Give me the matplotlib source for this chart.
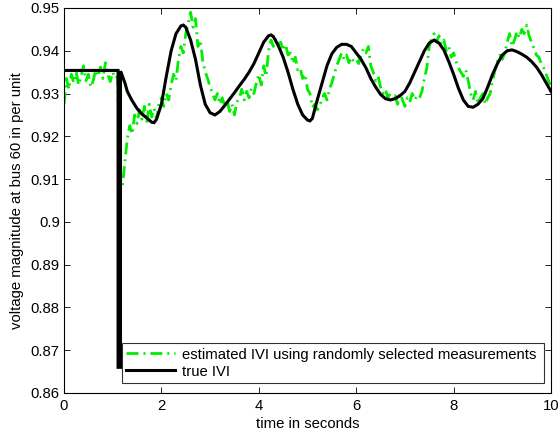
import numpy as np
import matplotlib
matplotlib.use("Agg")
import matplotlib.pyplot as plt

plt.rcParams['font.family'] = ['Liberation Sans', 'DejaVu Sans']

# Estimated |V| (green), sampled every 0.05 s from 0 to 10 s
est_t = np.linspace(0, 10, 201)
est_v = [
    0.9275, 0.9335, 0.9310, 0.9345, 0.9325, 0.9350, 0.9320, 0.9340, 0.9365, 0.9330,
    0.9345, 0.9315, 0.9330, 0.9355, 0.9340, 0.9362, 0.9335, 0.9372, 0.9345, 0.9328,
    0.9350, 0.9335, 0.9340, 0.9100, 0.9085, 0.9140, 0.9195, 0.9225, 0.9205, 0.9250,
    0.9230, 0.9262, 0.9240, 0.9270, 0.9232, 0.9275, 0.9245, 0.9265, 0.9240, 0.9278,
    0.9290, 0.9270, 0.9300, 0.9285, 0.9320, 0.9345, 0.9330, 0.9380, 0.9410, 0.9395,
    0.9440, 0.9465, 0.9490, 0.9455, 0.9475, 0.9410, 0.9425, 0.9375, 0.9350, 0.9335,
    0.9315, 0.9300, 0.9285, 0.9300, 0.9275, 0.9290, 0.9270, 0.9285, 0.9258, 0.9275,
    0.9250, 0.9280, 0.9290, 0.9310, 0.9285, 0.9305, 0.9290, 0.9312, 0.9300, 0.9325,
    0.9345, 0.9320, 0.9365, 0.9340, 0.9400, 0.9425, 0.9410, 0.9430, 0.9415, 0.9420,
    0.9400, 0.9415, 0.9390, 0.9395, 0.9370, 0.9385, 0.9355, 0.9360, 0.9335, 0.9345,
    0.9310, 0.9300, 0.9268, 0.9275, 0.9262, 0.9270, 0.9290, 0.9300, 0.9285, 0.9310,
    0.9325, 0.9345, 0.9365, 0.9380, 0.9395, 0.9380, 0.9390, 0.9372, 0.9385, 0.9375,
    0.9380, 0.9370, 0.9390, 0.9405, 0.9395, 0.9410, 0.9365, 0.9350, 0.9330, 0.9340,
    0.9315, 0.9300, 0.9310, 0.9290, 0.9300, 0.9285, 0.9295, 0.9275, 0.9300, 0.9285,
    0.9270, 0.9290, 0.9280, 0.9300, 0.9285, 0.9295, 0.9290, 0.9305, 0.9335, 0.9360,
    0.9410, 0.9430, 0.9440, 0.9420, 0.9435, 0.9415, 0.9425, 0.9400, 0.9410, 0.9385,
    0.9395, 0.9375, 0.9360, 0.9350, 0.9340, 0.9355, 0.9330, 0.9300, 0.9285, 0.9305,
    0.9275, 0.9290, 0.9300, 0.9275, 0.9290, 0.9300, 0.9330, 0.9355, 0.9375, 0.9390,
    0.9380, 0.9395, 0.9420, 0.9440, 0.9410, 0.9425, 0.9445, 0.9430, 0.9450, 0.9440,
    0.9460, 0.9435, 0.9420, 0.9405, 0.9390, 0.9385, 0.9370, 0.9360, 0.9345, 0.9330,
    0.9315,
]

# True |V| (black)
true_t = [0.0, 1.11, 1.11, 1.16, 1.16, 1.17, 1.25, 1.30, 1.39, 1.50, 1.60, 1.70,
          1.80, 1.85, 1.90, 2.00, 2.10, 2.20, 2.30, 2.40, 2.45, 2.50, 2.60, 2.70,
          2.80, 2.90, 3.00, 3.10, 3.20, 3.30, 3.40, 3.50, 3.60, 3.70, 3.80, 3.90,
          4.00, 4.10, 4.20, 4.25, 4.30, 4.40, 4.50, 4.60, 4.70, 4.80, 4.90, 5.00,
          5.05, 5.10, 5.20, 5.30, 5.40, 5.50, 5.60, 5.70, 5.80, 5.90, 6.00, 6.10,
          6.20, 6.30, 6.40, 6.50, 6.60, 6.70, 6.80, 6.90, 7.00, 7.10, 7.20, 7.30,
          7.40, 7.50, 7.60, 7.70, 7.80, 7.90, 8.00, 8.10, 8.20, 8.30, 8.40, 8.50,
          8.60, 8.70, 8.80, 8.90, 9.00, 9.10, 9.20, 9.30, 9.40, 9.50, 9.60, 9.70,
          9.80, 9.90, 10.0]
true_v = [0.9354, 0.9354, 0.8660, 0.8660, 0.9352, 0.9350, 0.9325, 0.9305, 0.9285, 0.9265, 0.9252, 0.9243,
          0.9233, 0.9232, 0.9240, 0.9275, 0.9340, 0.9400, 0.9440, 0.9458, 0.9460, 0.9455, 0.9425, 0.9380,
          0.9320, 0.9275, 0.9255, 0.9250, 0.9258, 0.9272, 0.9287, 0.9302, 0.9318, 0.9333, 0.9350, 0.9370,
          0.9395, 0.9420, 0.9435, 0.9437, 0.9433, 0.9412, 0.9385, 0.9350, 0.9310, 0.9275, 0.9250, 0.9238,
          0.9236, 0.9242, 0.9285, 0.9325, 0.9365, 0.9393, 0.9408, 0.9415, 0.9415, 0.9410, 0.9395, 0.9380,
          0.9360, 0.9335, 0.9315, 0.9298, 0.9288, 0.9285, 0.9288, 0.9295, 0.9305, 0.9325, 0.9350, 0.9375,
          0.9400, 0.9418, 0.9425, 0.9418, 0.9402, 0.9375, 0.9345, 0.9312, 0.9285, 0.9270, 0.9268, 0.9275,
          0.9288, 0.9315, 0.9345, 0.9370, 0.9390, 0.9400, 0.9402, 0.9398, 0.9392, 0.9385, 0.9375, 0.9362,
          0.9345, 0.9325, 0.9305]

xticks = [0, 2, 4, 6, 8, 10]
yticks = [0.86, 0.87, 0.88, 0.89, 0.9, 0.91, 0.92, 0.93, 0.94, 0.95]
ytick_labels = ['0.86', '0.87', '0.88', '0.89', '0.9', '0.91', '0.92', '0.93', '0.94', '0.95']

FS = 10.7

fig = plt.figure(figsize=(5.59, 4.34), dpi=100)
ax = fig.add_axes([0.1145, 0.0945, 0.8712, 0.8871])

ax.plot(est_t, est_v, color='#00ee00', lw=2.0, linestyle=(0, (4.3, 1.8, 0.7, 1.8)),
        label='estimated IVI using randomly selected measurements')
ax.plot(true_t, true_v, color='black', lw=2.2, solid_joinstyle='miter',
        label='true IVI')

ax.set_xlim(0, 10)
ax.set_ylim(0.86, 0.95)
ax.set_xticks(xticks)
ax.set_xticklabels([str(x) for x in xticks])
ax.set_yticks(yticks)
ax.set_yticklabels(ytick_labels)
ax.tick_params(direction='in', top=True, right=True, labelsize=FS, length=4, width=0.6)
ax.tick_params(axis='x', pad=4)
ax.tick_params(axis='y', pad=3)
for s in ax.spines.values():
    s.set_linewidth(0.8)

ax.set_xlabel('time in seconds', fontsize=FS, labelpad=3)
ax.set_ylabel('voltage magnitude at bus 60 in per unit', fontsize=FS, labelpad=5)

leg = ax.legend(loc='lower left', bbox_to_anchor=(0.119, 0.026, 0.867, 0.104), mode='expand',
                fontsize=FS, frameon=True, fancybox=False, edgecolor='black',
                borderaxespad=0, handlelength=3.3, handletextpad=0.45, borderpad=0.3,
                labelspacing=0.2)
leg.get_frame().set_linewidth(0.8)

fig.savefig('out.png', dpi=100)
